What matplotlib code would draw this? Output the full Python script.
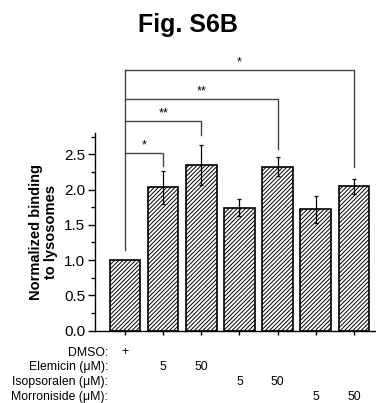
import matplotlib
matplotlib.use("Agg")
import matplotlib.pyplot as plt
from matplotlib.transforms import blended_transform_factory

plt.rcParams['font.family'] = ['Liberation Sans', 'DejaVu Sans']
plt.rcParams['hatch.linewidth'] = 0.7
plt.rcParams['hatch.color'] = '#222222'

# Normalized binding to lysosomes per treatment
values = [1.00, 2.03, 2.35, 1.74, 2.32, 1.72, 2.045]
errors = [0.00, 0.235, 0.285, 0.12, 0.135, 0.19, 0.105]

# Treatment table shown under the axis
row_labels = ["DMSO:", "Elemicin (\u03bcM):", "Isopsoralen (\u03bcM):", "Morroniside (\u03bcM):"]
row_entries = [
    ["+", "", "", "", "", "", ""],
    ["", "5", "50", "", "", "", ""],
    ["", "", "", "5", "50", "", ""],
    ["", "", "", "", "", "5", "50"],
]

# Significance brackets: (target bar, bracket height, drop end, stars)
brackets = [
    (1, 2.52, 2.33, "*"),
    (2, 2.97, 2.77, "**"),
    (4, 3.28, 2.57, "**"),
    (6, 3.695, 2.315, "*"),
]

fig = plt.figure(figsize=(3.76, 4.03), dpi=100)
ax = fig.add_axes([95 / 376, 72.5 / 403, 281 / 376, 197.4 / 403])

x = list(range(len(values)))
ax.bar(x, values, width=0.8, color='white', edgecolor='black', linewidth=1.2,
       hatch='////////', zorder=2)
ax.errorbar(x[1:], values[1:], yerr=errors[1:], fmt='none', ecolor='black',
            elinewidth=0.9, capsize=1.6, capthick=0.9, zorder=3)

ax.set_xlim(-0.787, 6.58)
ax.set_ylim(0, 2.8)
ax.set_yticks([0, 0.5, 1.0, 1.5, 2.0, 2.5])
ax.set_yticks([0.25, 0.75, 1.25, 1.75, 2.25, 2.75], minor=True)
ax.set_yticklabels(["0.0", "0.5", "1.0", "1.5", "2.0", "2.5"])
ax.set_xticks(x)
ax.set_xticklabels([])
ax.tick_params(axis='y', which='major', direction='out', length=5, width=1, labelsize=11, pad=2)
ax.tick_params(axis='y', which='minor', direction='out', length=3, width=1)
ax.tick_params(axis='x', which='major', direction='out', length=3, width=1)
for side in ('top', 'right'):
    ax.spines[side].set_visible(False)
for side in ('left', 'bottom'):
    ax.spines[side].set_linewidth(1.0)

ax.set_ylabel("Normalized binding\nto lysosomes", fontsize=10.5, fontweight='bold',
              linespacing=1.15)
ax.yaxis.set_label_coords(-0.13, 0.5)

# Significance brackets from the DMSO control
bcol = '#444444'
top = max(b[1] for b in brackets)
ax.plot([0, 0], [1.14, top], color=bcol, lw=1.0, clip_on=False, zorder=4)
for target, h, drop, stars in brackets:
    ax.plot([0, target, target], [h, h, drop], color=bcol, lw=1.0,
            clip_on=False, zorder=4)
    ax.text(target / 2, h + 0.02, stars, ha='center', va='bottom', fontsize=9,
            clip_on=False)

# Treatment table
trans = blended_transform_factory(ax.transData, fig.transFigure)
row_y = [352.5, 367, 382, 397]
for label, entries, yp in zip(row_labels, row_entries, row_y):
    yf = 1 - yp / 403
    fig.text(108 / 376, yf, label, ha='right', va='center', fontsize=8.8)
    for xi, e in zip(x, entries):
        if e:
            ax.text(xi, yf, e, transform=trans, ha='center', va='center',
                    fontsize=8.8, clip_on=False)

fig.text(0.5, 1 - 32.3 / 403, "Fig. S6B", ha='center', va='baseline', fontsize=18,
         fontweight='bold')

fig.savefig("out.png", dpi=100)
